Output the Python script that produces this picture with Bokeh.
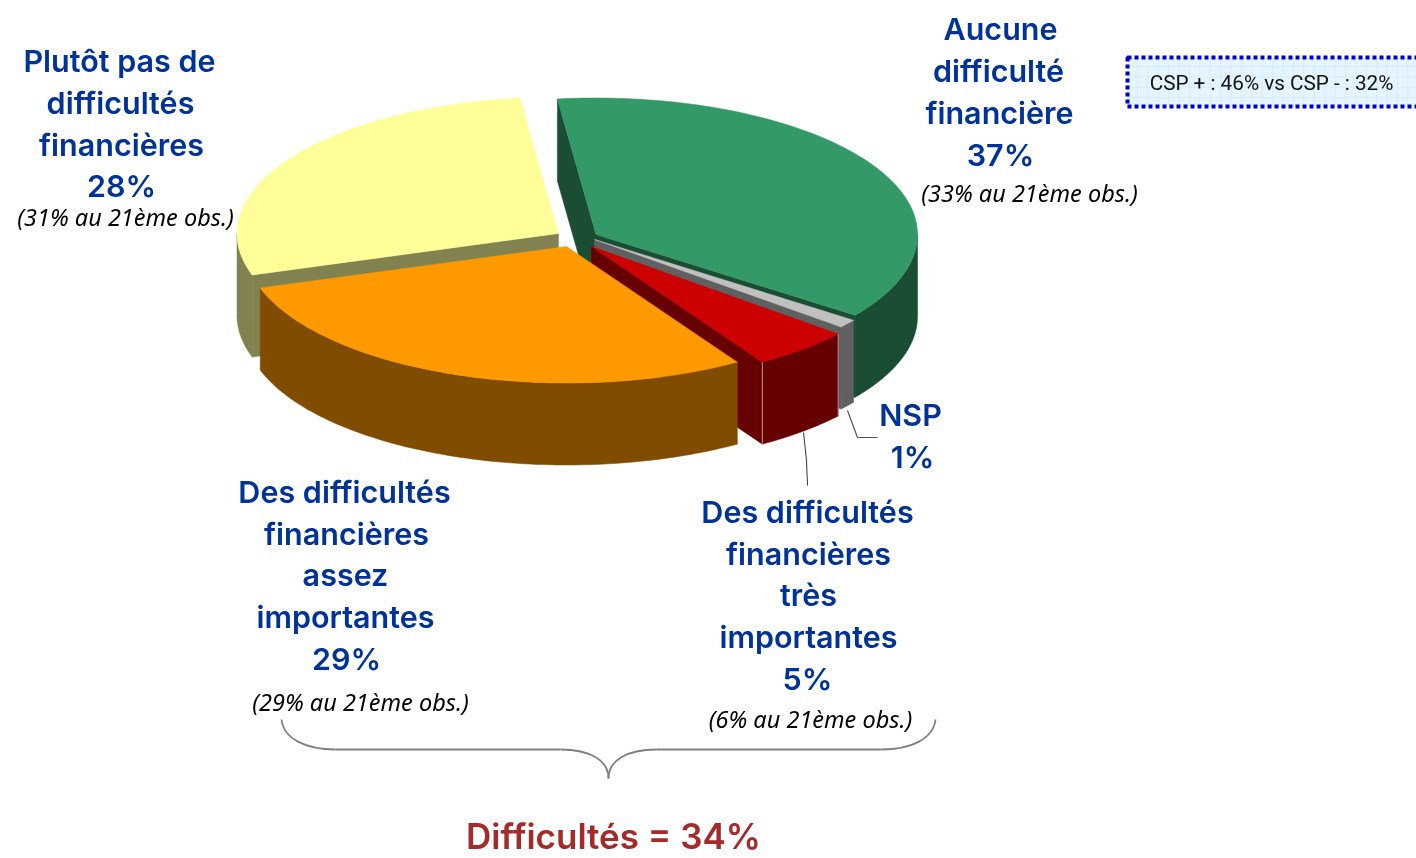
import numpy as np
from bokeh.plotting import figure
from bokeh.embed import file_html
from bokeh.resources import INLINE
from bokeh.core.properties import value

# ---- data ----
categories = ["Aucune difficulté financière", "NSP", "Des difficultés financières très importantes",
              "Des difficultés financières assez importantes", "Plutôt pas de difficultés financières"]
values = [37, 1, 5, 29, 28]
top_colors = ["#339966", "#c0c0c0", "#cc0000", "#ff9900", "#ffff99"]
side_colors = ["#1a4d33", "#606060", "#660000", "#804d00", "#828250"]
apex_x = [595.5, 594, 591, 566, 558]
apex_y = [234, 239, 246, 246, 233]
draw_order = [4, 0, 1, 2, 3]

main_lines = ["Aucune", "difficulté", "financière", "37%",
              "Plutôt pas de", "difficultés", "financières", "28%",
              "Des difficultés", "financières", "assez", "importantes", "29%",
              "Des difficultés", "financières", "très", "importantes", "5%",
              "NSP", "1%"]
main_x = [1000, 998, 999, 1000, 119, 120, 121, 121, 344, 346, 345, 345, 346, 807, 808, 808, 808, 807, 910, 912]
main_y = [29, 71, 113, 155, 61, 103, 145, 186, 492, 534, 575, 617, 659, 512, 554, 595, 637, 679, 415, 457]
note_lines = ["(33% au 21ème obs.)", "(31% au 21ème obs.)", "(29% au 21ème obs.)", "(6% au 21ème obs.)"]
note_x = [1029, 125, 360, 810]
note_y = [193, 217, 702, 719]
total_label = "Difficultés = 34%"
box_label = "CSP + : 46% vs CSP - : 32%"

# ---- layout ----
RX, RY, DEPTH, START = 321.5, 136.5, 82.0, -6.9
W, H = 1416, 858

p = figure(width=W, height=H, x_range=(0, W), y_range=(H, 0), toolbar_location=None,
           output_backend="svg", x_axis_location=None, y_axis_location=None,
           min_border=0, outline_line_color=None, background_fill_color="white")
p.grid.visible = False
p.styles = {"position": "fixed", "left": "0", "top": "0"}


def pt(cx, cy, t):
    r = np.radians(t)
    return cx + RX * np.sin(r), cy - RY * np.cos(r)


def arc(cx, cy, a, b, n=90):
    return pt(cx, cy, np.linspace(a, b, n))


edges = START + np.cumsum([0] + values) * 3.6
for i in draw_order:
    a, b = edges[i], edges[i + 1]
    cx, cy = apex_x[i], apex_y[i]
    sc, tc = side_colors[i], top_colors[i]
    # radial walls facing the viewer
    for t, sign in ((a, -1), (b, 1)):
        ex, ey = pt(cx, cy, t)
        dx = ex - cx
        if sign * dx > 0:
            p.patch([cx, ex, ex, cx], [cy, ey, ey + DEPTH, cy + DEPTH],
                    fill_color=sc, line_color=sc, line_width=0.5)
    # outer rim, front half only
    lo, hi = max(a, 90), min(b, 270)
    if hi > lo:
        rx, ry = arc(cx, cy, lo, hi)
        p.patch(np.r_[rx, rx[::-1]], np.r_[ry, ry[::-1] + DEPTH],
                fill_color=sc, line_color=sc, line_width=0.5)
    # top face
    ax, ay = arc(cx, cy, a, b)
    p.patch(np.r_[cx, ax], np.r_[cy, ay], fill_color=tc, line_color=tc, line_width=0.5)

# pale seams on the dark red faces
sx = []
sy = []
for t in (edges[2], edges[3]):
    x0, y0 = pt(apex_x[2], apex_y[2], t)
    sx.append([x0, x0])
    sy.append([y0, y0 + DEPTH])
p.multi_line(sx, sy, line_color="#c89090", line_width=1)

# leader lines
p.line([847, 857, 877], [410, 437, 437], line_color="#555555", line_width=1.2)
p.line([803, 806, 807], [432, 460, 485], line_color="#333333", line_width=1)

# brace
BR = "#808080"
p.bezier(x0=[281, 560, 935, 656], y0=[719, 749, 719, 749],
         x1=[335, 608, 881, 608], y1=[749, 778, 749, 778],
         cx0=[283, 590, 933, 626], cy0=[738, 749, 738, 749],
         cx1=[305, 608, 911, 608], cy1=[749, 760, 749, 760], line_color=BR, line_width=1.8)
p.segment(x0=[335, 656], y0=[749, 749], x1=[560, 881], y1=[749, 749], line_color=BR, line_width=1.8)

# CSP box
p.quad(left=[1127], right=[1430], top=[57], bottom=[106], fill_color="#e6f4fd", line_color=None)
gx = np.arange(1137, 1420, 10.4)
gy = np.arange(66, 106, 10.4)
p.segment(x0=gx, x1=gx, y0=57, y1=106, line_color="#d4edfb", line_width=1)
p.segment(x0=1127, x1=1420, y0=gy, y1=gy, line_color="#d4edfb", line_width=1)
p.quad(left=[1127], right=[1430], top=[57], bottom=[106], fill_color=None,
       line_color="#0000cc", line_width=4, line_dash="4 3")
p.text([1271], [82.5], text=[box_label], text_font=value("Roboto"), text_font_size="20.7px",
       text_color="#111111", text_align="center", text_baseline="middle")

# labels
p.text(main_x, np.array(main_y) - 1.0, text=main_lines, text_font=value("Inter SemiBold"),
       text_font_size="30.5px", text_color="#003399", text_align="center", text_baseline="middle")
p.text(note_x, np.array(note_y) - 1.0, text=note_lines, text_font=value("Noto Sans"), text_font_style="italic",
       text_font_size="23.5px", text_color="#000000", text_align="center", text_baseline="middle")
p.text([613], [835], text=[total_label], text_font=value("Inter SemiBold"),
       text_font_size="35px", text_color="#a52a2a", text_align="center", text_baseline="middle")

open("out.html", "w").write(file_html(p, INLINE))
